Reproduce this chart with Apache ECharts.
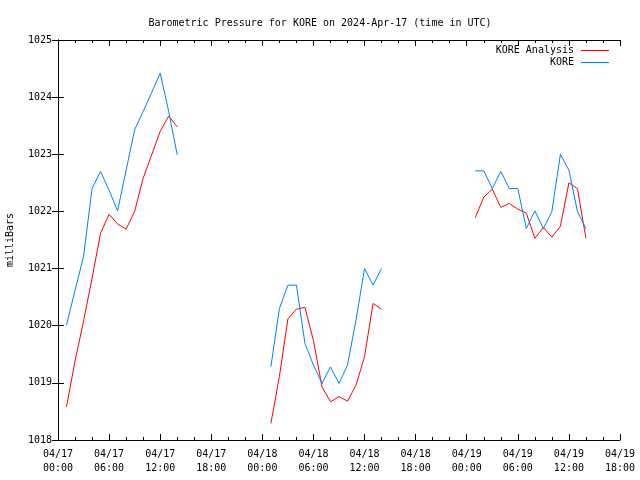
<!DOCTYPE html>
<html>
<head>
<meta charset="utf-8">
<script src="https://cdn.jsdelivr.net/npm/echarts@6/dist/echarts.min.js"></script>
<style>html,body{margin:0;padding:0;background:#fff}#c{width:640px;height:480px}</style>
</head>
<body>
<div id="c"></div>
<script>
// hours since 2024-04-17 00:00 UTC
const hours = [1,2,3,4,5,6,7,8,9,10,11,12,13,14,
               25,26,27,28,29,30,31,32,33,34,35,36,37,38,
               49,50,51,52,53,54,55,56,57,58,59,60,61,62];
const analysis = [1018.58,1019.38,1020.08,1020.83,1021.62,1021.95,1021.78,1021.69,1022.0,1022.58,1022.99,1023.40,1023.67,1023.48,
                  1018.29,1019.11,1020.12,1020.29,1020.32,1019.74,1018.93,1018.67,1018.76,1018.68,1018.96,1019.46,1020.39,1020.29,
                  1021.89,1022.25,1022.39,1022.07,1022.14,1022.04,1021.97,1021.53,1021.72,1021.55,1021.74,1022.50,1022.40,1021.53];
const kore = [1020.01,1020.62,1021.21,1022.40,1022.70,1022.37,1022.01,1022.72,1023.43,1023.75,1024.08,1024.42,1023.75,1022.99,
              1019.28,1020.30,1020.71,1020.71,1019.69,1019.31,1018.99,1019.28,1018.99,1019.31,1020.10,1021.0,1020.71,1021.0,
              1022.71,1022.71,1022.40,1022.70,1022.40,1022.40,1021.70,1022.01,1021.70,1022.0,1023.0,1022.72,1022.0,1021.70];
const tickLabels = ['04/17\n00:00','04/17\n06:00','04/17\n12:00','04/17\n18:00',
                    '04/18\n00:00','04/18\n06:00','04/18\n12:00','04/18\n18:00',
                    '04/19\n00:00','04/19\n06:00','04/19\n12:00','04/19\n18:00'];
const seriesNames = ['KORE Analysis','KORE'];

function build(vals){
  const out = [];
  for (let i = 0; i < hours.length; i++) {
    if (i > 0 && hours[i] - hours[i-1] > 1) out.push([hours[i]-1, null]);
    out.push([hours[i], vals[i]]);
  }
  return out;
}
const FONT = 'DejaVu Sans Mono';
const chart = echarts.init(document.getElementById('c'), null, {renderer:'canvas'});
const tickX = {show:true, inside:true, length:6, lineStyle:{color:'#000'}};
const minorX = {show:true, splitNumber:3, length:3, lineStyle:{color:'#000'}};
chart.setOption({
  animation:false,
  backgroundColor:'#fff',
  title:{text:'Barometric Pressure for KORE on 2024-Apr-17 (time in UTC)', left:'center', top:13,
    textStyle:{fontFamily:FONT, fontSize:10, fontWeight:'normal', color:'#000'}},
  legend:{data:seriesNames, orient:'vertical', right:31, top:44.5, align:'right', itemWidth:28, itemHeight:1,
    itemGap:0, icon:'rect', padding:0,
    textStyle:{fontFamily:FONT, fontSize:10, color:'#000', padding:[0,2,0,0], lineHeight:12}},
  grid:{left:58, right:20, top:40, bottom:40, containLabel:false, outerBoundsMode:'none'},
  xAxis:[{type:'value', min:0, max:66, interval:6, position:'bottom',
    axisLine:{lineStyle:{color:'#000'}}, axisTick:tickX, minorTick:minorX, splitLine:{show:false},
    axisLabel:{fontFamily:FONT, fontSize:10, color:'#000', lineHeight:14, margin:7,
      formatter:v=>tickLabels[Math.round(v/6)]}},
    {type:'value', min:0, max:66, interval:6, position:'top',
    axisLine:{lineStyle:{color:'#000'}}, axisTick:tickX, minorTick:minorX, splitLine:{show:false},
    axisLabel:{show:false}}],
  yAxis:[{type:'value', min:1018, max:1025, interval:1, position:'left',
    name:'milliBars', nameLocation:'middle', nameGap:43, nameRotate:90,
    nameTextStyle:{fontFamily:FONT, fontSize:10, color:'#000'},
    axisLine:{show:true, lineStyle:{color:'#000'}}, axisTick:{show:true, inside:true, length:6, lineStyle:{color:'#000'}},
    splitLine:{show:false},
    axisLabel:{fontFamily:FONT, fontSize:10, color:'#000', margin:6, formatter:v=>String(v)}},
    {type:'value', min:1018, max:1025, interval:1, position:'right',
    axisLine:{show:true, lineStyle:{color:'#000'}}, axisTick:{show:true, inside:true, length:6, lineStyle:{color:'#000'}},
    splitLine:{show:false}, axisLabel:{show:false}}],
  series:[
    {name:seriesNames[0], type:'line', data:build(analysis), symbol:'none', showSymbol:false,
     connectNulls:false, color:'#ff0000', lineStyle:{width:1, color:'#ff0000'}},
    {name:seriesNames[1], type:'line', data:build(kore), symbol:'none', showSymbol:false,
     connectNulls:false, color:'#0080ff', lineStyle:{width:1, color:'#0080ff'}}
  ]
});
</script>
</body>
</html>
